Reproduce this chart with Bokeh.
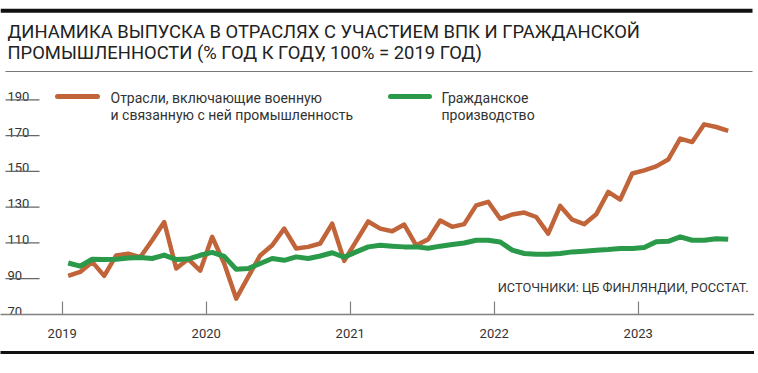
import pandas as pd
from bokeh.plotting import figure
from bokeh.models import Range1d, LinearAxis, FixedTicker
from bokeh.core.properties import value
from bokeh.embed import file_html
from bokeh.resources import INLINE

# ---------------- data ----------------
months = pd.date_range("2019-01-01", periods=56, freq="MS")
defense = [91.6, 93.8, 99.4, 91.6, 103.0, 104.0, 102.0, 111.5, 121.7, 95.7,
           101.0, 94.5, 113.4, 98.5, 78.9, 91.0, 103.0, 108.7, 118.0, 106.9,
           107.8, 109.7, 120.8, 100.0, 111.0, 122.0, 118.0, 116.5, 120.3, 108.7,
           112.0, 122.5, 119.0, 120.5, 131.0, 133.0, 123.5, 125.9, 127.0, 124.5,
           115.2, 130.7, 123.0, 120.5, 126.0, 138.5, 134.2, 148.8, 150.6, 152.8,
           156.6, 168.3, 166.4, 176.3, 174.8, 172.6]
civil = [98.8, 97.0, 100.9, 100.7, 100.9, 101.6, 101.9, 101.3, 103.2, 100.7,
         101.0, 103.1, 104.7, 102.5, 95.3, 95.7, 98.5, 101.3, 100.3, 102.2,
         101.3, 102.7, 104.5, 102.0, 105.0, 107.8, 108.7, 108.2, 107.8, 107.8,
         107.0, 108.2, 109.1, 110.0, 111.5, 111.5, 110.5, 106.0, 104.1, 103.7,
         103.7, 104.1, 105.0, 105.4, 105.9, 106.3, 106.9, 106.9, 107.4, 110.6,
         110.9, 113.4, 111.5, 111.5, 112.3, 112.0]
year_ticks = [2019, 2020, 2021, 2022, 2023]
year_labels = ["2019", "2020", "2021", "2022", "2023"]
y_ticks = [190, 170, 150, 130, 110, 90, 70]
y_labels = ["190", "170", "150", "130", "110", "90", "70"]

title_lines = ["ДИНАМИКА ВЫПУСКА В ОТРАСЛЯХ С УЧАСТИЕМ ВПК И ГРАЖДАНСКОЙ",
               "ПРОМЫШЛЕННОСТИ (% ГОД К ГОДУ, 100% = 2019 ГОД)"]
legend_def = ["Отрасли, включающие военную", "и связанную с ней промышленность"]
legend_civ = ["Гражданское", "производство"]
source = "ИСТОЧНИКИ: ЦБ ФИНЛЯНДИИ, РОССТАТ."

# month mid-points as fractional years
xs = [m.year + (m.month - 0.5) / 12 for m in months]

# ---------------- layout ----------------
FONT = "Roboto"
ORANGE = "#c2643a"
GREEN = "#2a9a4a"
W, H = 754, 368
FH = 314                      # frame height (px): x axis line position
PX_PER_YEAR = 144.0
X0_PX = 61.7                  # position of 2019 tick
PX_PER_UNIT = 1.789

x_start = 2019 - X0_PX / PX_PER_YEAR
x_end = x_start + W / PX_PER_YEAR
y_end = 70 + FH / PX_PER_UNIT

p = figure(width=W, height=H, output_backend="svg", toolbar_location=None,
           x_range=Range1d(x_start, x_end), y_range=Range1d(70, y_end),
           x_axis_location=None, y_axis_location=None,
           min_border_left=0, min_border_right=0, min_border_top=0,
           min_border_bottom=H - FH)
p.outline_line_color = None
p.xgrid.grid_line_color = None
p.ygrid.grid_line_color = None
p.background_fill_color = "white"
p.border_fill_color = "white"

# pixel-like ranges for decoration inside the frame
p.extra_x_ranges = {"px": Range1d(0, W)}
p.extra_y_ranges = {"py": Range1d(FH, 0)}

# x axis
xa = LinearAxis(ticker=FixedTicker(ticks=year_ticks),
                major_label_overrides={t: l for t, l in zip(year_ticks, year_labels)},
                axis_line_color="#808080", axis_line_width=1.5,
                major_tick_in=13, major_tick_out=0,
                major_tick_line_color="#808080", major_tick_line_width=1.2,
                minor_tick_line_color=None,
                major_label_standoff=14,
                major_label_text_font=FONT, major_label_text_font_size="13px",
                major_label_text_color="#333333",
                axis_label=" ", axis_label_text_font_size="8px",
                axis_label_standoff=0)
p.add_layout(xa, "below")
xb = LinearAxis(ticker=FixedTicker(ticks=[]), axis_line_color="#111111",
                axis_line_width=3, major_tick_in=0, major_tick_out=0,
                minor_tick_line_color=None, major_label_text_font_size="0px")
p.add_layout(xb, "below")

# top rule, title, rule under title
p.segment(x0=0, y0=10.3, x1=752, y1=10.3, line_width=4, line_color="#111111",
          x_range_name="px", y_range_name="py")
p.text(x=[7, 7], y=[31, 52], text=title_lines, text_font=value(FONT),
       text_font_size="18.4px", text_color="#222222", text_baseline="middle",
       x_range_name="px", y_range_name="py")
p.segment(x0=5, y0=71, x1=752, y1=71, line_width=1, line_color="#777777",
          x_range_name="px", y_range_name="py")

# legend
p.segment(x0=57, y0=96, x1=97, y1=96, line_width=5, line_color=ORANGE,
          line_cap="round", x_range_name="px", y_range_name="py")
p.text(x=[110, 110], y=[97, 114], text=legend_def, text_font=value(FONT),
       text_font_size="14px", text_color="#333333", text_baseline="middle",
       x_range_name="px", y_range_name="py")
p.segment(x0=390, y0=96, x1=429, y1=96, line_width=5, line_color=GREEN,
          line_cap="round", x_range_name="px", y_range_name="py")
p.text(x=[441, 441], y=[97, 114], text=legend_civ, text_font=value(FONT),
       text_font_size="14px", text_color="#333333", text_baseline="middle",
       x_range_name="px", y_range_name="py")

# y tick labels with underlines
p.text(x=[7] * len(y_ticks), y=y_ticks, text=y_labels, text_font=value(FONT),
       text_font_size="13px", text_color="#333333", text_baseline="alphabetic",
       y_offset=-3.5, x_range_name="px")
ul = [t for t in y_ticks if t != 70]
p.segment(x0=[5] * len(ul), y0=ul, x1=[39] * len(ul), y1=ul,
          line_width=1.2, line_color="#666666", x_range_name="px")

# source
p.text(x=[748], y=[287], text=[source], text_font=value(FONT),
       text_font_size="12.8px", text_color="#333333", text_align="right",
       text_baseline="middle", x_range_name="px", y_range_name="py")

# data lines
p.line(xs, defense, line_width=4.5, line_color=ORANGE, line_join="round")
p.line(xs, civil, line_width=5, line_color=GREEN, line_join="round")

open("out.html", "w").write(file_html(p, INLINE))
